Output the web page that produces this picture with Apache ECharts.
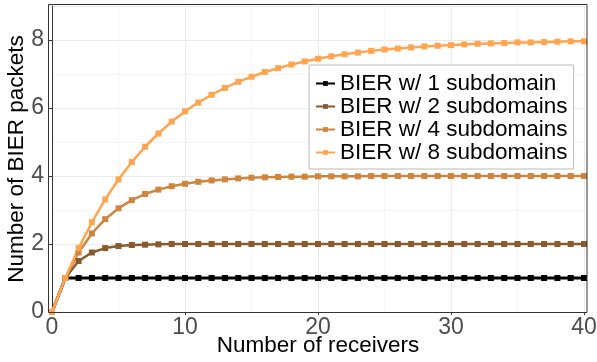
<!DOCTYPE html>
<html>
<head>
<meta charset="utf-8">
<script src="https://cdn.jsdelivr.net/npm/echarts@6/dist/echarts.min.js"></script>
<style>
  html, body { margin: 0; padding: 0; background: #fff; }
  #chart { width: 597px; height: 362px; }
</style>
</head>
<body>
<div id="chart"></div>
<script>
// receivers 0..40
var receivers = [];
for (var i = 0; i <= 40; i++) receivers.push(i);

var names = ['BIER w/ 1 subdomain', 'BIER w/ 2 subdomains', 'BIER w/ 4 subdomains', 'BIER w/ 8 subdomains'];
var colors = ['#000000', '#8B5A2B', '#CD853F', '#FFA54F'];

var sub1 = [0, 1, 1, 1, 1, 1, 1, 1, 1, 1, 1, 1, 1, 1, 1, 1, 1, 1, 1, 1, 1,
  1, 1, 1, 1, 1, 1, 1, 1, 1, 1, 1, 1, 1, 1, 1, 1, 1, 1, 1, 1];
var sub2 = [0, 1, 1.5, 1.75, 1.88, 1.94, 1.97, 1.98, 1.99, 2, 2, 2, 2, 2, 2, 2, 2, 2, 2, 2, 2,
  2, 2, 2, 2, 2, 2, 2, 2, 2, 2, 2, 2, 2, 2, 2, 2, 2, 2, 2, 2];
var sub4 = [0, 1, 1.75, 2.31, 2.73, 3.05, 3.29, 3.47, 3.6, 3.7, 3.77, 3.83, 3.87, 3.9, 3.93, 3.95, 3.96, 3.97, 3.98, 3.98, 3.99,
  3.99, 3.99, 3.99, 4, 4, 4, 4, 4, 4, 4, 4, 4, 4, 4, 4, 4, 4, 4, 4, 4];
var sub8 = [0, 1, 1.88, 2.64, 3.31, 3.9, 4.41, 4.86, 5.25, 5.6, 5.9, 6.16, 6.39, 6.59, 6.77, 6.92, 7.06, 7.17, 7.28, 7.37, 7.45,
  7.52, 7.58, 7.63, 7.68, 7.72, 7.75, 7.78, 7.81, 7.83, 7.85, 7.87, 7.89, 7.9, 7.91, 7.93, 7.93, 7.94, 7.95, 7.96, 7.96];

var seriesValues = [sub1, sub2, sub4, sub8];

var series = seriesValues.map(function (vals, k) {
  return {
    name: names[k],
    type: 'line',
    data: vals.map(function (v, j) { return [receivers[j], v]; }),
    symbol: 'rect',
    symbolSize: 6,
    showAllSymbol: true,
    lineStyle: { width: k === 0 ? 3 : 2.5, color: colors[k] },
    itemStyle: { color: colors[k] },
    emphasis: { disabled: true },
    animation: false
  };
});

var chart = echarts.init(document.getElementById('chart'));
chart.setOption({
  animation: false,
  textStyle: { fontFamily: 'Liberation Sans, Arial, sans-serif' },
  grid: { left: 52, right: 13, top: 6, bottom: 50, containLabel: false, outerBoundsMode: 'none' },
  xAxis: {
    type: 'value',
    min: 0, max: 40, interval: 10,
    name: 'Number of receivers',
    nameLocation: 'middle',
    nameGap: 22,
    nameMoveOverlap: false,
    nameTextStyle: { fontSize: 22.5, color: '#000' },
    axisLine: { show: true, lineStyle: { color: '#333', width: 1 } },
    axisTick: { show: true, length: 3, lineStyle: { color: '#333' } },
    axisLabel: { fontSize: 23, color: '#4D4D4D', margin: 4 },
    splitLine: { show: true, lineStyle: { color: '#EBEBEB', width: 1.2 } },
    minorTick: { show: false, splitNumber: 2 },
    minorSplitLine: { show: true, lineStyle: { color: '#F5F5F5', width: 1 } }
  },
  yAxis: {
    type: 'value',
    min: 0, max: 9, interval: 2,
    offset: 3,
    name: 'Number of BIER packets',
    nameLocation: 'middle',
    nameGap: 21,
    nameMoveOverlap: false,
    nameTextStyle: { fontSize: 22.5, color: '#000' },
    axisLine: { show: true, lineStyle: { color: '#333', width: 1 } },
    axisTick: { show: true, length: 3, lineStyle: { color: '#333' } },
    axisLabel: { fontSize: 23, color: '#4D4D4D', margin: 5, showMaxLabel: false },
    splitLine: { show: true, lineStyle: { color: '#EBEBEB', width: 1.2 } },
    minorTick: { show: false, splitNumber: 2 },
    minorSplitLine: { show: true, lineStyle: { color: '#F5F5F5', width: 1 } }
  },
  legend: {
    orient: 'vertical',
    left: 309, top: 65,
    padding: [7, 6, 5, 6],
    itemGap: 0,
    itemWidth: 19,
    itemHeight: 6,
    backgroundColor: '#fff',
    borderColor: '#BBBBBB',
    borderWidth: 1,
    textStyle: { fontSize: 22.5, lineHeight: 21, color: '#000' },
    data: names
  },
  graphic: [{
    type: 'rect',
    shape: { x: 48.5, y: 4.5, width: 538.5, height: 308 },
    style: { fill: 'none', stroke: '#333', lineWidth: 1 },
    silent: true,
    z: 100
  }],
  series: series
});
</script>
</body>
</html>
